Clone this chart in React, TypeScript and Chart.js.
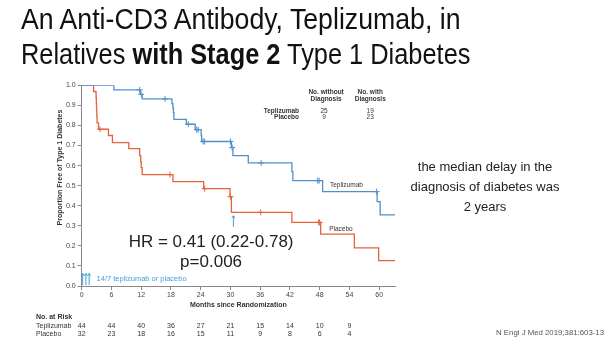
import { useEffect, useRef } from "react";
import { Chart, registerables } from "chart.js";

Chart.register(...registerables);

// Kaplan–Meier step points: month of each event and proportion free of diabetes after it
const teplizumabMonths = [0, 6.5, 11.8, 12.2, 18.2, 18.4, 18.5, 18.6, 21.1, 22.9, 24.1, 24.2, 30.2, 30.5, 33.6, 42.4, 42.6, 48.6, 59.6, 60.2, 63.2];
const teplizumabFree = [1.0, 0.977, 0.955, 0.932, 0.909, 0.886, 0.864, 0.83, 0.806, 0.779, 0.75, 0.72, 0.69, 0.65, 0.613, 0.57, 0.525, 0.47, 0.42, 0.354, 0.354];

const placeboMonths = [0, 2.4, 2.9, 2.95, 3.0, 3.05, 3.1, 3.4, 5.4, 6.2, 9.5, 11.7, 11.9, 12.0, 12.2, 18.4, 24.6, 29.9, 30.2, 42.4, 48.2, 55.0, 59.9, 63.2];
const placeboFree = [1.0, 0.969, 0.938, 0.906, 0.875, 0.844, 0.813, 0.781, 0.75, 0.714, 0.684, 0.65, 0.62, 0.59, 0.555, 0.52, 0.485, 0.445, 0.367, 0.317, 0.258, 0.19, 0.126, 0.126];

// Censored observations
const teplizumabCensorMonths = [11.7, 12.0, 16.8, 21.5, 23.2, 23.5, 24.5, 24.8, 30.0, 30.35, 36.2, 47.6, 47.9, 59.5];
const teplizumabCensorFree = [0.977, 0.955, 0.932, 0.806, 0.779, 0.779, 0.72, 0.72, 0.72, 0.69, 0.613, 0.525, 0.525, 0.47];
const placeboCensorMonths = [3.7, 17.8, 24.8, 30.0, 36.1, 47.8, 48.0];
const placeboCensorFree = [0.781, 0.555, 0.485, 0.445, 0.367, 0.317, 0.317];

// Axis ticks
const monthTicks = [0, 6, 12, 18, 24, 30, 36, 42, 48, 54, 60];
const proportionTicks = [0, 0.1, 0.2, 0.3, 0.4, 0.5, 0.6, 0.7, 0.8, 0.9, 1.0];

// Number at risk
const riskMonths = [0, 6, 12, 18, 24, 30, 36, 42, 48, 54];
const teplizumabAtRisk = [44, 44, 40, 36, 27, 21, 15, 14, 10, 9];
const placeboAtRisk = [32, 23, 18, 16, 15, 11, 9, 8, 6, 4];

// Diagnosis summary
const groups = ["Teplizumab", "Placebo"];
const withoutDiagnosis = [25, 9];
const withDiagnosis = [19, 23];

// Study drug infusions and the 30-month marker
const infusionMonths = [0.2, 0.85, 1.5];
const markerMonth = 30.6;

const BLUE = "#4f8fcc";
const RED = "#e5623a";
const ARROW = "#3f9fcf";
const SANS = '"Liberation Sans", Arial, sans-serif';

const toPoints = (xs: number[], ys: number[]) => xs.map((x, i) => ({ x, y: ys[i] }));

function upArrow(ctx: CanvasRenderingContext2D, x: number, yBottom: number, yTop: number) {
  ctx.beginPath();
  ctx.moveTo(x, yBottom);
  ctx.lineTo(x, yTop);
  ctx.moveTo(x - 1.6, yTop + 2.2);
  ctx.lineTo(x, yTop);
  ctx.lineTo(x + 1.6, yTop + 2.2);
  ctx.stroke();
}

const annotations = {
  id: "kmAnnotations",
  afterDraw(chart: any) {
    const { ctx, scales } = chart;
    const x = scales.x;
    const y = scales.y;
    ctx.save();

    // y-axis title
    ctx.save();
    ctx.translate(60, 167.5);
    ctx.rotate(-Math.PI / 2);
    ctx.font = `bold 7px ${SANS}`;
    ctx.fillStyle = "#333";
    ctx.textAlign = "center";
    ctx.textBaseline = "middle";
    ctx.fillText("Proportion Free of Type 1 Diabetes", 0, 0);
    ctx.restore();

    // infusion arrows
    ctx.strokeStyle = ARROW;
    ctx.lineWidth = 1;
    infusionMonths.forEach((m) => {
      upArrow(ctx, x.getPixelForValue(m), y.getPixelForValue(0.004), y.getPixelForValue(0.062));
    });
    upArrow(ctx, x.getPixelForValue(markerMonth), y.getPixelForValue(0.295), y.getPixelForValue(0.35));

    ctx.font = `7.5px ${SANS}`;
    ctx.fillStyle = "#4aa0dc";
    ctx.textAlign = "left";
    ctx.textBaseline = "middle";
    ctx.fillText("14/7 teplizumab or placebo", x.getPixelForValue(3.0), y.getPixelForValue(0.033));

    // hazard ratio
    ctx.font = `17px ${SANS}`;
    ctx.fillStyle = "#222";
    ctx.textAlign = "center";
    ctx.fillText("HR = 0.41 (0.22-0.78)", x.getPixelForValue(26.1), y.getPixelForValue(0.22));
    ctx.fillText("p=0.006", x.getPixelForValue(26.1), y.getPixelForValue(0.12));

    // curve labels
    ctx.font = `6.5px ${SANS}`;
    ctx.fillStyle = "#333";
    ctx.fillText("Teplizumab", x.getPixelForValue(53.4), y.getPixelForValue(0.503));
    ctx.fillText("Placebo", x.getPixelForValue(52.3), y.getPixelForValue(0.284));

    // diagnosis table
    const c1 = x.getPixelForValue(49.3);
    const c2 = x.getPixelForValue(58.2);
    ctx.font = `bold 6.5px ${SANS}`;
    ctx.fillText("No. without", c1, 92);
    ctx.fillText("Diagnosis", c1, 99);
    ctx.fillText("No. with", c2, 92);
    ctx.fillText("Diagnosis", c2, 99);
    groups.forEach((g, i) => {
      const rowY = 111 + i * 6.5;
      ctx.font = `bold 6.5px ${SANS}`;
      ctx.textAlign = "right";
      ctx.fillText(g, 299, rowY);
      ctx.font = `6.5px ${SANS}`;
      ctx.textAlign = "center";
      ctx.fillText(String(withoutDiagnosis[i]), c1 - 2, rowY);
      ctx.fillText(String(withDiagnosis[i]), c2, rowY);
    });

    // number at risk
    ctx.textAlign = "left";
    ctx.font = `bold 7px ${SANS}`;
    ctx.fillText("No. at Risk", 36, 317.5);
    ctx.font = `7px ${SANS}`;
    ctx.fillText("Teplizumab", 36, 326.5);
    ctx.fillText("Placebo", 36, 334.5);
    ctx.textAlign = "center";
    riskMonths.forEach((m, i) => {
      const px = x.getPixelForValue(m);
      ctx.fillText(String(teplizumabAtRisk[i]), px, 326.5);
      ctx.fillText(String(placeboAtRisk[i]), px, 334.5);
    });

    ctx.restore();
  },
};

const titleLine = (scale: number): React.CSSProperties => ({
  transform: `scaleX(${scale})`,
  transformOrigin: "left center",
  whiteSpace: "nowrap",
});

export default function App() {
  const canvasRef = useRef<HTMLCanvasElement | null>(null);

  useEffect(() => {
    document.body.style.margin = "0";
    const canvas = canvasRef.current;
    if (!canvas) return;

    const chart = new Chart(canvas, {
      type: "line",
      data: {
        datasets: [
          {
            label: "Teplizumab",
            data: toPoints(teplizumabMonths, teplizumabFree),
            borderColor: BLUE,
            borderWidth: 1.3,
            stepped: "before",
            pointRadius: 0,
            fill: false,
          },
          {
            label: "Placebo",
            data: toPoints(placeboMonths, placeboFree),
            borderColor: RED,
            borderWidth: 1.3,
            stepped: "before",
            pointRadius: 0,
            fill: false,
          },
          {
            label: "Teplizumab censored",
            data: toPoints(teplizumabCensorMonths, teplizumabCensorFree),
            showLine: false,
            pointStyle: "cross",
            pointRadius: 3,
            borderColor: BLUE,
            borderWidth: 1,
          },
          {
            label: "Placebo censored",
            data: toPoints(placeboCensorMonths, placeboCensorFree),
            showLine: false,
            pointStyle: "cross",
            pointRadius: 3,
            borderColor: RED,
            borderWidth: 1,
          },
        ],
      },
      options: {
        animation: false,
        responsive: false,
        events: [],
        layout: { padding: { left: 52, right: 221, top: 85.3, bottom: 40.8 } },
        plugins: { legend: { display: false }, tooltip: { enabled: false } },
        scales: {
          x: {
            type: "linear",
            min: 0,
            max: 63.2,
            afterBuildTicks: (s: any) => {
              s.ticks = monthTicks.map((v) => ({ value: v }));
            },
            afterFit: (s: any) => {
              s.height = 27.2;
            },
            grid: { drawOnChartArea: false, drawTicks: true, tickLength: 4, color: "#888" },
            border: { display: true, color: "#888", width: 1 },
            ticks: { font: { size: 7, family: SANS }, color: "#444", padding: 1, maxRotation: 0 },
            title: {
              display: true,
              text: "Months since Randomization",
              font: { size: 7, weight: "bold", family: SANS },
              color: "#333",
              padding: { top: 4, bottom: 4 },
            },
          },
          y: {
            type: "linear",
            min: 0,
            max: 1,
            afterBuildTicks: (s: any) => {
              s.ticks = proportionTicks.map((v) => ({ value: v }));
            },
            afterFit: (s: any) => {
              s.width = 29.7;
            },
            grid: { drawOnChartArea: false, drawTicks: true, tickLength: 4, color: "#888" },
            border: { display: true, color: "#888", width: 1 },
            ticks: {
              font: { size: 7, family: SANS },
              color: "#444",
              padding: 2,
              callback: (v: any) => Number(v).toFixed(1),
            },
          },
        },
      },
      plugins: [annotations],
    });

    return () => chart.destroy();
  }, []);

  return (
    <div style={{ position: "relative", width: 616, height: 354, background: "#fff", overflow: "hidden" }}>
      <canvas ref={canvasRef} width={616} height={354} style={{ position: "absolute", left: 0, top: 0, width: 616, height: 354 }} />
      <div
        style={{
          position: "absolute",
          left: 21,
          top: 1.8,
          fontFamily: '"Liberation Sans", Arial, sans-serif',
          fontSize: 29,
          lineHeight: "35px",
          color: "#111",
        }}
      >
        <div style={titleLine(0.92)}>An Anti-CD3 Antibody, Teplizumab, in</div>
        <div style={titleLine(0.875)}>
          Relatives <b>with Stage 2</b> Type 1 Diabetes
        </div>
      </div>
      <div
        style={{
          position: "absolute",
          left: 385,
          top: 156.5,
          width: 200,
          textAlign: "center",
          fontFamily: '"Liberation Sans", Arial, sans-serif',
          fontSize: 13,
          lineHeight: "20px",
          color: "#222",
        }}
      >
        the median delay in the
        <br />
        diagnosis of diabetes was
        <br />2 years
      </div>
      <div
        style={{
          position: "absolute",
          right: 12,
          top: 327,
          fontFamily: '"Liberation Sans", Arial, sans-serif',
          fontSize: 7.8,
          lineHeight: "12px",
          color: "#555",
        }}
      >
        N Engl J Med 2019;381:603-13
      </div>
    </div>
  );
}
